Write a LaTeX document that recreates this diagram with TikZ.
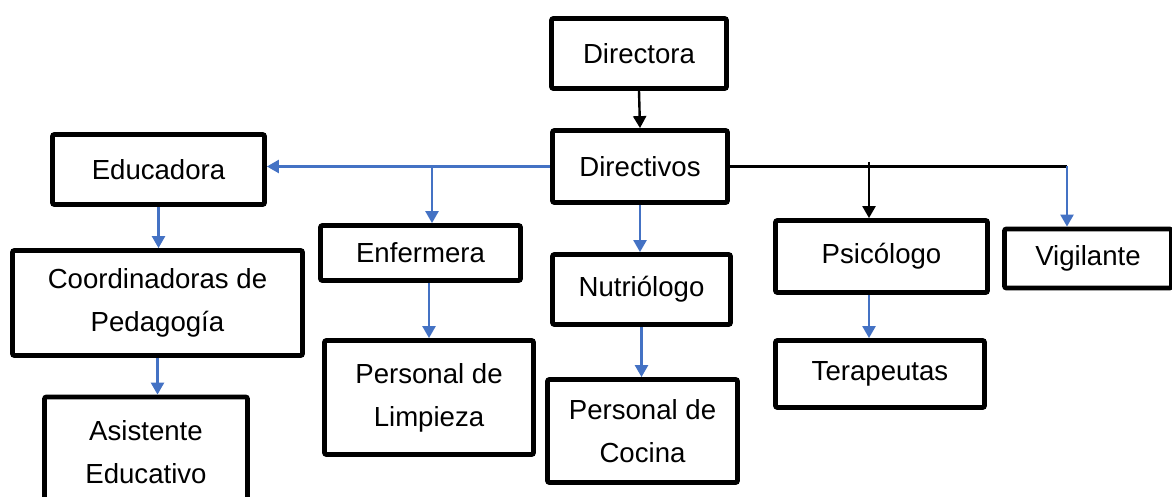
\documentclass[tikz,border=0pt]{standalone}
\usepackage{fontspec}
\setmainfont{Liberation Sans}
\usetikzlibrary{arrows.meta}
\definecolor{linkblue}{RGB}{68,114,196}

\begin{document}
\begin{tikzpicture}[>={Triangle[width=6.5pt,length=6pt]}, x=0.5pt, y=-0.5pt,
  box/.style={draw, line width=2.4pt, rounded corners=1pt, align=center,
    inner sep=0pt, font=\fontsize{13.8}{21.5}\selectfont},
  link/.style={->, line width=1.2pt, linkblue},
  plainlink/.style={line width=1.2pt}]
\useasboundingbox (0,0) rectangle (1172,497);

% === Top ===
\node[box, minimum width=87.5pt, minimum height=35pt]
  (Directora) at (639,53.5) {Directora};
\node[box, minimum width=87.5pt, minimum height=36pt]
  (Directivos) at (640,166.5) {Directivos};

% === Left branch ===
\node[box, minimum width=106pt, minimum height=35pt]
  (Educadora) at (158.5,169.5) {Educadora};
\node[box, minimum width=145pt, minimum height=52.5pt]
  (Coordinadoras) at (157.5,303) {Coordinadoras de\\Pedagogía};
\node[box, minimum width=101.5pt, minimum height=55pt]
  (Asistente) at (146,452) {Asistente\\Educativo};

% === Middle branches ===
\node[box, minimum width=100pt, minimum height=27.5pt]
  (Enfermera) at (420.5,253) {Enfermera};
\node[box, minimum width=104.5pt, minimum height=57pt]
  (Limpieza) at (429,397.5) {Personal de\\Limpieza};
\node[box, minimum width=89pt, minimum height=35pt]
  (Nutriologo) at (641.5,289.5) {Nutriólogo};
\node[box, minimum width=95pt, minimum height=51.5pt]
  (Cocina) at (642.5,431) {Personal de\\Cocina};

% === Right branches ===
\node[box, minimum width=106pt, minimum height=36pt]
  (Psicologo) at (881.5,256.5) {Psicólogo};
\node[box, minimum width=104.5pt, minimum height=33.5pt]
  (Terapeutas) at (880,374) {Terapeutas};
\node[box, minimum width=83.5pt, minimum height=29.5pt]
  (Vigilante) at (1088,258.5) {Vigilante};

% === Connections ===
\coordinate (EnfBranch) at (432,166.5);
\coordinate (PsiBranch) at (869,162);
\coordinate (VigBranch) at (1067,166.5);

\draw[plainlink, ->] (Directora.south) -- (Directivos.north);
\draw[link] (Directivos.west) -- (Directivos.west -| Educadora.east);
\draw[link] (EnfBranch) -- (EnfBranch |- Enfermera.north);
\draw[link] (Directivos.south) -- (Directivos.south |- Nutriologo.north);
\draw[plainlink] (Directivos.east) -- (VigBranch);
\draw[plainlink, ->] (PsiBranch) -- (PsiBranch |- Psicologo.north);
\draw[link] (VigBranch) -- (VigBranch |- Vigilante.north);

% second level
\draw[link] (Educadora.south) -- (Educadora.south |- Coordinadoras.north);
\draw[link] (Coordinadoras.south) -- (Coordinadoras.south |- Asistente.north);
\draw[link] (Limpieza.north |- Enfermera.south) -- (Limpieza.north);
\draw[link] (Nutriologo.south) -- (Nutriologo.south |- Cocina.north);
\draw[link] (PsiBranch |- Psicologo.south) -- (PsiBranch |- Terapeutas.north);

\end{tikzpicture}
\end{document}
